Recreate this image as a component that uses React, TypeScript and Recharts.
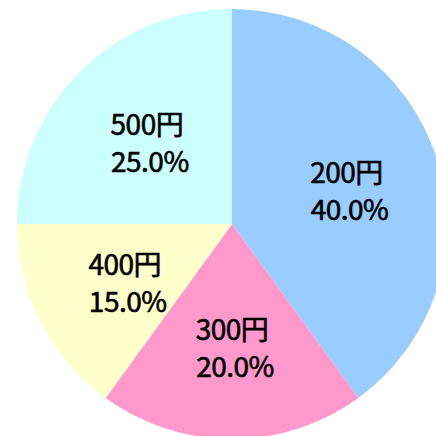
import { PieChart, Pie, Cell } from "recharts";

const categories = ["200円", "300円", "400円", "500円"];
const shares = [40, 20, 15, 25];
const colors = ["#99CCFF", "#FF99CC", "#FFFFCC", "#CCFFFF"];

const data = categories.map((name, i) => ({ name, value: shares[i] }));

const RADIAN = Math.PI / 180;

function renderLabel(props: any) {
  const { cx, cy, midAngle, outerRadius, name, percent } = props;
  const r = outerRadius * 0.56;
  const x = cx + r * Math.cos(-midAngle * RADIAN);
  const y = cy + r * Math.sin(-midAngle * RADIAN);
  const common = {
    textAnchor: "middle" as const,
    fill: "#000",
    stroke: "#000",
    strokeWidth: 0.6,
    fontSize: 28,
    fontFamily: "'Noto Sans CJK JP', sans-serif",
    style: { letterSpacing: "-0.5px" },
  };
  return (
    <g>
      <text x={x} y={y - 4} {...common}>{name}</text>
      <text x={x + 3} y={y + 33} {...common}>{(percent * 100).toFixed(1)}%</text>
    </g>
  );
}

export default function App() {
  return (
    <div style={{ position: "absolute", left: 0, top: 0, width: 436, height: 436, background: "#fff" }}>
      <PieChart width={436} height={436} margin={{ top: 0, right: 0, bottom: 0, left: 0 }}>
        <Pie
          data={data}
          dataKey="value"
          nameKey="name"
          cx={232}
          cy={224}
          outerRadius={215}
          startAngle={90}
          endAngle={-270}
          stroke="none"
          label={renderLabel}
          labelLine={false}
          isAnimationActive={false}
        >
          {data.map((d, i) => (
            <Cell key={d.name} fill={colors[i]} />
          ))}
        </Pie>
      </PieChart>
    </div>
  );
}
